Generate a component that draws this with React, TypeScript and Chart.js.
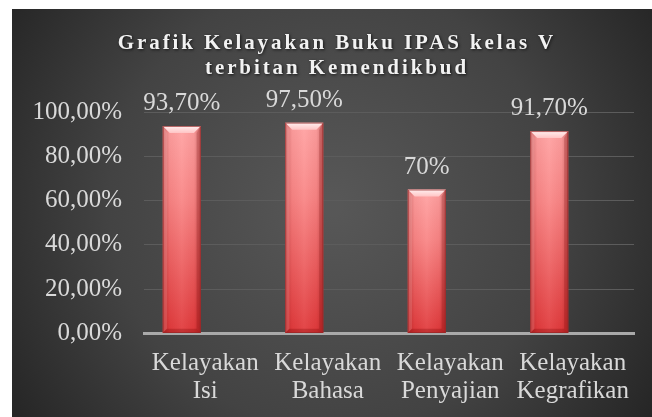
import React, { useEffect, useRef } from 'react';
import { Chart, registerables } from 'chart.js';

Chart.register(...registerables);

const TITLE_LINES = ['Grafik Kelayakan Buku IPAS kelas V', 'terbitan Kemendikbud'];
const CATEGORIES = [
  ['Kelayakan', 'Isi'],
  ['Kelayakan', 'Bahasa'],
  ['Kelayakan', 'Penyajian'],
  ['Kelayakan', 'Kegrafikan'],
];
const VALUES = [93.7, 95.2, 65, 91.4];
const VALUE_LABELS = ['93,70%', '97,50%', '70%', '91,70%'];
const EMPTY_SERIES = [null, null, null, null];
const Y_MIN = 0;
const Y_MAX = 100;
const Y_STEP = 20;

const FONT = "'Liberation Serif', serif";
const TEXT = '#d9d9d9';

const bgPlugin = {
  id: 'bg',
  beforeDraw(chart: any) {
    const { ctx, width, height } = chart;
    ctx.save();
    const g = ctx.createRadialGradient(width * 0.5, height * 0.48, 10, width * 0.5, height * 0.48, width * 0.62);
    g.addColorStop(0, '#575757');
    g.addColorStop(0.55, '#434343');
    g.addColorStop(1, '#232323');
    ctx.fillStyle = g;
    ctx.fillRect(0, 0, width, height);
    ctx.restore();
  },
};

const titlePlugin = {
  id: 'spacedTitle',
  afterDraw(chart: any) {
    const { ctx } = chart;
    ctx.save();
    ctx.font = `bold 21px ${FONT}`;
    (ctx as any).letterSpacing = '2.9px';
    ctx.textAlign = 'center';
    ctx.textBaseline = 'alphabetic';
    ctx.shadowColor = 'rgba(0,0,0,0.7)';
    ctx.shadowBlur = 3;
    ctx.shadowOffsetX = 1;
    ctx.shadowOffsetY = 1;
    ctx.fillStyle = '#f2f2f2';
    const cx = 325;
    TITLE_LINES.forEach((line, i) => {
      ctx.fillText(line, cx, 39.5 + i * 25.7);
    });
    ctx.restore();
  },
};

const barStylePlugin = {
  id: 'barStyle',
  afterDatasetDraw(chart: any, args: any) {
    if (args.index !== 0) return;
    const { ctx } = chart;
    const meta = chart.getDatasetMeta(0);
    meta.data.forEach((bar: any) => {
      const { x, y, base, width } = bar.getProps(['x', 'y', 'base', 'width'], true);
      if (![x, y, base, width].every(Number.isFinite)) return;
      const l = x - width / 2;
      const r = x + width / 2;
      const t = y;
      const b = base;
      const bv = 7;
      ctx.save();
      const hg = ctx.createLinearGradient(l, 0, r, 0);
      hg.addColorStop(0, 'rgba(120,10,10,0.35)');
      hg.addColorStop(0.18, 'rgba(120,10,10,0.05)');
      hg.addColorStop(0.5, 'rgba(255,255,255,0.06)');
      hg.addColorStop(0.82, 'rgba(120,10,10,0.05)');
      hg.addColorStop(1, 'rgba(120,10,10,0.35)');
      ctx.fillStyle = hg;
      ctx.fillRect(l, t, r - l, b - t);
      ctx.fillStyle = 'rgba(255,200,200,0.18)';
      ctx.beginPath();
      ctx.moveTo(l, t); ctx.lineTo(l + bv * 0.6, t + bv); ctx.lineTo(l + bv * 0.6, b - bv * 0.6); ctx.lineTo(l, b);
      ctx.closePath(); ctx.fill();
      ctx.fillStyle = 'rgba(110,0,0,0.2)';
      ctx.beginPath();
      ctx.moveTo(r, t); ctx.lineTo(r - bv * 0.6, t + bv); ctx.lineTo(r - bv * 0.6, b - bv * 0.6); ctx.lineTo(r, b);
      ctx.closePath(); ctx.fill();
      ctx.fillStyle = 'rgba(110,0,0,0.25)';
      ctx.beginPath();
      ctx.moveTo(l, b); ctx.lineTo(l + bv * 0.6, b - bv * 0.6); ctx.lineTo(r - bv * 0.6, b - bv * 0.6); ctx.lineTo(r, b);
      ctx.closePath(); ctx.fill();
      const tg = ctx.createLinearGradient(0, t, 0, t + bv);
      tg.addColorStop(0, '#fff0f0');
      tg.addColorStop(1, '#ffc4c4');
      ctx.fillStyle = tg;
      ctx.beginPath();
      ctx.moveTo(l, t); ctx.lineTo(r, t); ctx.lineTo(r - bv, t + bv); ctx.lineTo(l + bv, t + bv);
      ctx.closePath(); ctx.fill();
      ctx.strokeStyle = 'rgba(150,40,40,0.7)';
      ctx.lineWidth = 1;
      ctx.strokeRect(l + 0.5, t + 0.5, r - l - 1, b - t - 1);
      ctx.restore();
    });
  },
  afterDatasetsDraw(chart: any) {
    const { ctx } = chart;
    const meta = chart.getDatasetMeta(0);
    ctx.save();
    ctx.font = `25px ${FONT}`;
    ctx.fillStyle = TEXT;
    ctx.textAlign = 'center';
    ctx.textBaseline = 'alphabetic';
    meta.data.forEach((bar: any, i: number) => {
      const { x, y } = bar.getProps(['x', 'y'], true);
      if (!Number.isFinite(x) || !Number.isFinite(y)) return;
      ctx.fillText(VALUE_LABELS[i], x, y - 16);
    });
    ctx.restore();
  },
};

export default function App() {
  const ref = useRef<HTMLCanvasElement | null>(null);

  useEffect(() => {
    if (!ref.current) return;
    const chart = new Chart(ref.current, {
      type: 'bar',
      data: {
        labels: CATEGORIES as any,
        datasets: [
          {
            label: 'Kelayakan',
            data: VALUES,
            backgroundColor: (c: any) => {
              const ch = c.chart;
              const ys = ch.scales?.y;
              if (!ys || c.raw == null) return '#f06a6a';
              const top = ys.getPixelForValue(c.raw);
              const bottom = ys.getPixelForValue(0);
              if (!Number.isFinite(top) || !Number.isFinite(bottom) || top === bottom) return '#f06a6a';
              const g = ch.ctx.createLinearGradient(0, top, 0, bottom);
              g.addColorStop(0, '#ffa3a3');
              g.addColorStop(0.35, '#f98686');
              g.addColorStop(1, '#e0393b');
              return g;
            },
            borderWidth: 0,
            categoryPercentage: 0.767,
            barPercentage: 0.81,
          },
          {
            label: '',
            data: EMPTY_SERIES as any,
            backgroundColor: 'transparent',
            categoryPercentage: 0.767,
            barPercentage: 0.81,
          },
        ],
      },
      options: {
        animation: false,
        responsive: false,
        devicePixelRatio: 1,
        layout: { padding: { top: 103, right: 18, left: 0, bottom: 0 } },
        plugins: {
          legend: { display: false },
          title: { display: false },
          tooltip: { enabled: false },
        },
        scales: {
          x: {
            grid: { display: false, drawTicks: false },
            border: { display: true, color: '#a9a9a9', width: 3 },
            ticks: {
              color: TEXT,
              font: { family: FONT, size: 25, lineHeight: 1.12 },
              padding: 16,
              maxRotation: 0,
              autoSkip: false,
            },
            afterFit(scale: any) {
              scale.height = 83.5;
            },
          },
          y: {
            min: Y_MIN,
            max: Y_MAX,
            grid: {
              drawTicks: false,
              color: (c: any) => (c.tick && c.tick.value === 0 ? 'rgba(0,0,0,0)' : '#5c5c5c'),
              lineWidth: 1,
            },
            border: { display: false },
            ticks: {
              stepSize: Y_STEP,
              color: TEXT,
              font: { family: FONT, size: 25 },
              padding: 22,
              callback: (v: any) => Number(v).toFixed(2).replace('.', ',') + '%',
            },
            afterFit(scale: any) {
              scale.width = 132;
            },
          },
        },
      },
      plugins: [bgPlugin, barStylePlugin, titlePlugin],
    });
    return () => chart.destroy();
  }, []);

  return (
    <div style={{ position: 'absolute', left: 12, top: 9, width: 640, height: 408 }}>
      <canvas ref={ref} width={640} height={408} style={{ display: 'block', width: 640, height: 408 }} />
    </div>
  );
}
